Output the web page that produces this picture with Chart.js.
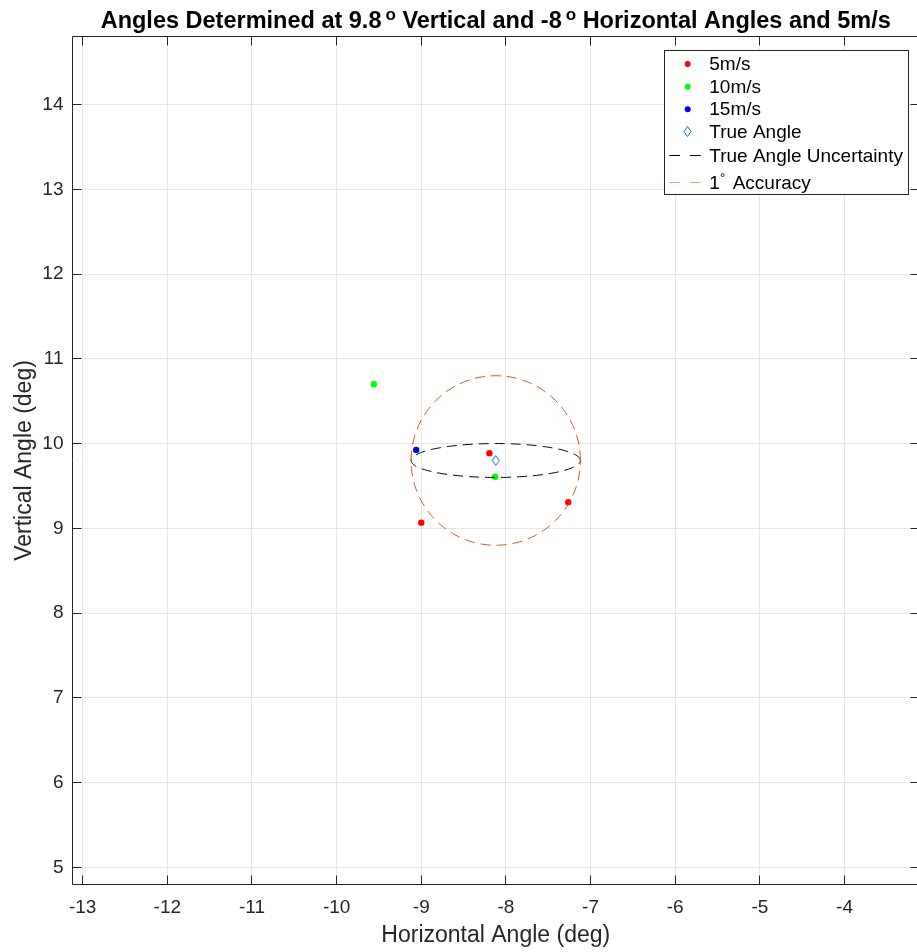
<!DOCTYPE html>
<html><head><meta charset="utf-8">
<script src="https://cdn.jsdelivr.net/npm/chart.js@4.4.1/dist/chart.umd.min.js"></script>
<style>html,body{margin:0;padding:0;background:#fff;overflow:hidden;width:917px;height:952px}#wrap{width:925px;height:952px;position:relative}canvas{display:block}</style>
</head><body>
<div id="wrap"><canvas id="c" width="925" height="952" style="width:925px;height:952px"></canvas></div>
<script>
// ---- data ----
const horiz5 = [-8.195, -9.00, -7.263];
const vert5  = [9.886, 9.067, 9.308];
const horiz10 = [-9.56, -8.128];
const vert10  = [10.70, 9.609];
const horiz15 = [-9.06];
const vert15  = [9.925];
const trueAngle = [-8.12, 9.8];          // [horizontal, vertical]
const uncertaintyRadii = [1.0, 0.2];     // ellipse semi-axes [h, v]
const accuracyRadius = [1.0];            // 1 degree circle
const xTickVals = [-13, -12, -11, -10, -9, -8, -7, -6, -5, -4];
const yTickVals = [5, 6, 7, 8, 9, 10, 11, 12, 13, 14];
const xLimits = [-13.12, -3.12];
const yLimits = [4.8, 14.8];
const legendLabels = ['5m/s', '10m/s', '15m/s', 'True Angle', 'True Angle Uncertainty', 'Accuracy'];

const FONT = '"Liberation Sans", Arial, Helvetica, sans-serif';
Chart.defaults.font.family = FONT;

function zip(xs, ys) { return xs.map((x, i) => ({ x: x, y: ys[i] })); }
function ellipse(c, rx, ry) {
  const pts = [];
  for (let i = 0; i <= 200; i++) {
    const t = i / 200 * 2 * Math.PI;
    pts.push({ x: c[0] + rx * Math.cos(t), y: c[1] + ry * Math.sin(t) });
  }
  return pts;
}

const BLUE_M = '#0072BD', ORANGE = '#D95319', AX = '#262626';

// diamond marker image
const dia = document.createElement('canvas');
dia.width = 9; dia.height = 13;
(function () {
  const g = dia.getContext('2d');
  g.strokeStyle = BLUE_M; g.lineWidth = 1;
  g.beginPath(); g.moveTo(4.5, 1.5); g.lineTo(8, 6.5); g.lineTo(4.5, 11.5); g.lineTo(1, 6.5); g.closePath(); g.stroke();
})();

function dashSeg(ctx, x0, x1, y, color) {
  ctx.save(); ctx.strokeStyle = color; ctx.lineWidth = 1; ctx.setLineDash([]);
  ctx.beginPath(); ctx.moveTo(x0, y); ctx.lineTo(x1, y); ctx.stroke(); ctx.restore();
}

const decor = {
  id: 'decor',
  afterDraw(chart) {
    const ctx = chart.ctx, ca = chart.chartArea;
    const xs = chart.scales.x, ys = chart.scales.y;
    const al = p => Math.round(p - 0.5) + 0.5;
    const L = al(ca.left), R = al(ca.right), T = al(ca.top), B = al(ca.bottom);
    ctx.save();
    ctx.strokeStyle = AX; ctx.lineWidth = 1; ctx.setLineDash([]);
    ctx.beginPath();
    ctx.moveTo(L, T); ctx.lineTo(R, T); ctx.lineTo(R, B); ctx.lineTo(L, B); ctx.closePath();
    const tl = 9;
    xTickVals.forEach(v => {
      const p = al(xs.getPixelForValue(v));
      ctx.moveTo(p, B); ctx.lineTo(p, B - tl);
      ctx.moveTo(p, T); ctx.lineTo(p, T + tl);
    });
    yTickVals.forEach(v => {
      const p = al(ys.getPixelForValue(v));
      ctx.moveTo(L, p); ctx.lineTo(L + tl, p);
      ctx.moveTo(R, p); ctx.lineTo(R - tl, p);
    });
    ctx.stroke();

    // axis titles
    ctx.fillStyle = AX;
    ctx.font = '23px ' + FONT;
    ctx.textAlign = 'center'; ctx.textBaseline = 'alphabetic';
    ctx.fillText('Horizontal Angle (deg)', (ca.left + ca.right) / 2, 942);
    ctx.save();
    ctx.translate(31, (ca.top + ca.bottom) / 2);
    ctx.rotate(-Math.PI / 2);
    ctx.fillText('Vertical Angle (deg)', 0, 0);
    ctx.restore();

    // title with superscripts
    const parts = [
      ['Angles Determined at 9.8', 'bold 23.5px ' + FONT, 0, 0],
      ['o', 'bold 17px ' + FONT, -8, 4],
      [' Vertical and -8', 'bold 23.5px ' + FONT, 0, 0],
      ['o', 'bold 17px ' + FONT, -8, 4],
      [' Horizontal Angles and 5m/s', 'bold 23.5px ' + FONT, 0, 0]
    ];
    let tw = 0;
    parts.forEach(p => { ctx.font = p[1]; tw += ctx.measureText(p[0]).width + p[3]; });
    let x = (ca.left + ca.right) / 2 - tw / 2;
    ctx.fillStyle = '#000'; ctx.textAlign = 'left';
    parts.forEach(p => {
      ctx.font = p[1]; x += p[3];
      ctx.fillText(p[0], x, 28 + p[2]);
      x += ctx.measureText(p[0]).width;
    });

    // legend
    const bx = 664.5, by = 50.5, bw = 244, bh = 144;
    ctx.fillStyle = '#fff'; ctx.fillRect(bx, by, bw, bh);
    ctx.strokeStyle = AX; ctx.lineWidth = 1; ctx.strokeRect(bx, by, bw, bh);
    const mx = 687.7, tx = 709.3;
    const dots = [['#FF0000', 64], ['#00FF00', 86.7], ['#0000FF', 109.3]];
    dots.forEach(d => { ctx.fillStyle = d[0]; ctx.beginPath(); ctx.arc(mx, d[1], 3, 0, 2 * Math.PI); ctx.fill(); });
    ctx.drawImage(dia, Math.round(mx - 4.5), Math.round(131.7 - 6.5));
    dashSeg(ctx, 669.3, 680, 155.5, '#000'); dashSeg(ctx, 690, 700.7, 155.5, '#000');
    dashSeg(ctx, 669.3, 680, 182.5, '#E9A47E'); dashSeg(ctx, 690, 700.7, 182.5, '#E9A47E');
    ctx.fillStyle = '#000'; ctx.font = '19px ' + FONT; ctx.textAlign = 'left';
    const bl = [70, 92.7, 115.3, 138.2, 162.3];
    for (let i = 0; i < 5; i++) ctx.fillText(legendLabels[i], tx, bl[i]);
    ctx.fillText('1', tx, 189);
    ctx.font = '13px ' + FONT; ctx.fillText('\u00B0', 720, 182);
    ctx.font = '19px ' + FONT; ctx.fillText(legendLabels[5], 732.7, 189);
    ctx.restore();
  }
};

new Chart(document.getElementById('c'), {
  type: 'scatter',
  data: {
    datasets: [
      { label: 'Accuracy', data: ellipse(trueAngle, accuracyRadius[0], accuracyRadius[0]), showLine: true, pointRadius: 0, borderColor: ORANGE, borderWidth: 1, borderDash: [10, 6], fill: false, tension: 0 },
      { label: 'True Angle Uncertainty', data: ellipse(trueAngle, uncertaintyRadii[0], uncertaintyRadii[1]), showLine: true, pointRadius: 0, borderColor: '#000', borderWidth: 1, borderDash: [10, 6], fill: false, tension: 0 },
      { label: '5m/s', data: zip(horiz5, vert5), pointRadius: 3.2, pointBackgroundColor: '#FF0000', pointBorderWidth: 0, borderColor: '#FF0000' },
      { label: '10m/s', data: zip(horiz10, vert10), pointRadius: 3.2, pointBackgroundColor: '#00FF00', pointBorderWidth: 0, borderColor: '#00FF00' },
      { label: '15m/s', data: zip(horiz15, vert15), pointRadius: 3.2, pointBackgroundColor: '#0000FF', pointBorderWidth: 0, borderColor: '#0000FF' },
      { label: 'True Angle', data: [{ x: trueAngle[0], y: trueAngle[1] }], pointStyle: dia, pointRadius: 5 }
    ]
  },
  options: {
    responsive: false, animation: false, devicePixelRatio: 1,
    layout: { padding: { left: 0, right: 2, top: 36.7, bottom: 0 } },
    plugins: { legend: { display: false }, tooltip: { enabled: false }, title: { display: false } },
    scales: {
      x: {
        type: 'linear', position: 'bottom', min: xLimits[0], max: xLimits[1],
        afterBuildTicks(s) { s.ticks = xTickVals.map(v => ({ value: v })); },
        afterFit(s) { s.height = 67.7; s.paddingLeft = 0; s.paddingRight = 0; },
        grid: { color: '#e6e6e6', drawTicks: false },
        border: { display: false },
        ticks: { padding: 12, color: AX, font: { size: 19 }, maxRotation: 0, autoSkip: false }
      },
      y: {
        type: 'linear', position: 'left', min: yLimits[0], max: yLimits[1],
        afterBuildTicks(s) { s.ticks = yTickVals.map(v => ({ value: v })); },
        afterFit(s) { s.width = 72.5; s.paddingTop = 0; s.paddingBottom = 0; },
        grid: { color: '#e6e6e6', drawTicks: false },
        border: { display: false },
        ticks: { padding: 9, color: AX, font: { size: 19 }, autoSkip: false }
      }
    }
  },
  plugins: [decor]
});
</script>
</body></html>
